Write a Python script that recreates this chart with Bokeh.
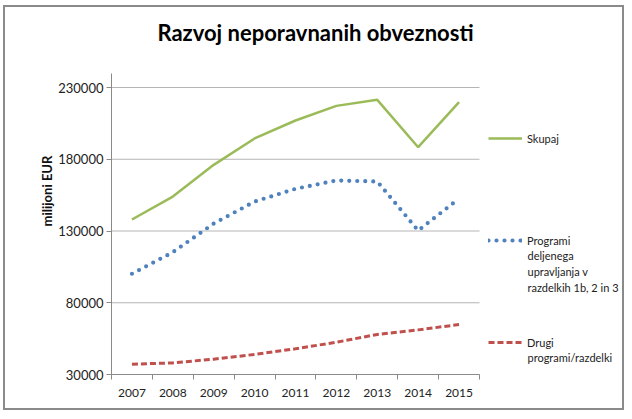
from bokeh.plotting import figure
from bokeh.models import (FixedTicker, Legend, LegendItem, Label, NumeralTickFormatter, Range1d)
from bokeh.embed import file_html
from bokeh.resources import INLINE

years = ["2007", "2008", "2009", "2010", "2011", "2012", "2013", "2014", "2015"]
skupaj = [138000, 154000, 176100, 194500, 207000, 217200, 221400, 188400, 219800]
programi = [100200, 115200, 135200, 150500, 159400, 165200, 164500, 130300, 152600]
drugi = [37200, 38100, 40700, 44000, 47900, 52500, 57900, 61100, 64800]
y_ticks = [30000, 80000, 130000, 180000, 230000]
legend_lines = [
    ["Skupaj"],
    ["Programi", "deljenega", "upravljanja v", "razdelkih 1b, 2 in 3"],
    ["Drugi", "programi/razdelki"],
]

# canvas placed inside a 2px border at page offset (5, 7)
OX, OY = 5, 7
CW, CH = 621, 405
# page-pixel geometry of the plot area
PL, PR, PB, PY_TOP_TICK = 111, 479, 374, 87
n = len(years)
FL = PL - OX            # frame left (canvas)
FB = PB - OY            # frame bottom (canvas)
FW = CW - FL            # frame spans to the right edge
FH = FB                 # frame spans to the top edge
ppx = (PR - PL) / n
vpp = (y_ticks[-1] - y_ticks[0]) / (PB - PY_TOP_TICK)
X1 = FW / ppx
Y0 = y_ticks[0]
Y1 = Y0 + FH * vpp

def px_x(px):
    return (px - PL) / ppx

def px_y(py):
    return Y0 + (PB - py) * vpp

p = figure(width=CW, height=CH, output_backend="svg", toolbar_location=None,
           x_range=Range1d(0, X1), y_range=Range1d(Y0, Y1),
           min_border_left=FL, min_border_right=0,
           min_border_top=0, min_border_bottom=CH - FB)
p.styles = {"border": "2px solid #8a8a8a", "margin-left": "3px", "margin-top": "5px"}
p.outline_line_color = None
p.background_fill_color = "white"
p.border_fill_color = "white"

xs = [i + 0.5 for i in range(n)]

FONT = "Lato"
AX = "#8a8a8a"
TXT = "#222222"

# x axis
p.xaxis.ticker = FixedTicker(ticks=xs, minor_ticks=list(range(n + 1)))
p.xaxis.major_label_overrides = {x: y for x, y in zip(xs, years)}
p.xaxis.bounds = (0, n)
p.xaxis.major_tick_line_color = None
p.xaxis.minor_tick_line_color = AX
p.xaxis.minor_tick_in = 0
p.xaxis.minor_tick_out = 5
p.xaxis.axis_line_color = AX
p.xaxis.major_label_text_font = FONT
p.xaxis.major_label_text_font_size = "12px"
p.xaxis.major_label_text_color = TXT
p.xaxis.major_label_standoff = 8
p.xgrid.visible = False

# y axis
p.yaxis.ticker = FixedTicker(ticks=y_ticks)
p.yaxis.formatter = NumeralTickFormatter(format="0")
p.yaxis.bounds = (Y0, px_y(73))
p.yaxis.major_tick_line_color = AX
p.yaxis.major_tick_in = 0
p.yaxis.major_tick_out = 5
p.yaxis.minor_tick_line_color = None
p.yaxis.axis_line_color = AX
p.yaxis.major_label_text_font = FONT
p.yaxis.major_label_text_font_size = "13px"
p.yaxis.major_label_text_color = TXT
p.yaxis.major_label_standoff = 3
p.yaxis.axis_label = "milijoni EUR"
p.yaxis.axis_label_text_font = FONT
p.yaxis.axis_label_text_font_style = "bold"
p.yaxis.axis_label_text_font_size = "13px"
p.yaxis.axis_label_text_color = "#111111"
p.yaxis.axis_label_standoff = 0
p.ygrid.visible = False

# horizontal gridlines limited to the plot area
p.segment(x0=[0] * len(y_ticks), x1=[n] * len(y_ticks), y0=y_ticks, y1=y_ticks,
          line_color="#b5b5b5", line_width=1)

g = p.line(xs, skupaj, line_color="#9BBB59", line_width=2.5)
b = p.line(xs, programi, line_color="#4F81BD", line_width=4.2, line_dash="0 8", line_cap="round")
r = p.line(xs, drugi, line_color="#C0504D", line_width=3, line_dash="6 3")

LFS = 11
LH = 15.7

def add_leg(lines, rend, glyph_py):
    # glyph_py: page y of the legend key / first text line
    vy = FB - ((glyph_py - OY) + 8) + 1
    leg = Legend(items=[LegendItem(label=lines[0], renderers=[rend])],
                 location=(488 - PL, vy), border_line_color=None,
                 background_fill_alpha=0, glyph_width=34, glyph_height=14,
                 label_text_font=FONT, label_text_font_size=f"{LFS}px",
                 label_text_color=TXT, label_standoff=5,
                 padding=0, margin=0, spacing=0)
    p.add_layout(leg)
    if len(lines) > 1:
        p.add_layout(Label(x=px_x(527), y=px_y(glyph_py + LH / 2 + 1), text="\n".join(lines[1:]),
                           text_font=FONT, text_font_size=f"{LFS}px", text_color=TXT,
                           text_align="left", text_baseline="top",
                           text_line_height=1.2))

add_leg(legend_lines[0], g, 138)
add_leg(legend_lines[1], b, 240)
add_leg(legend_lines[2], r, 342)

title = Label(x=px_x(315), y=px_y(32), text="Razvoj neporavnanih obveznosti",
              text_font=FONT, text_font_style="bold", text_font_size="22px",
              text_align="center", text_baseline="middle", text_color="#000000")
p.add_layout(title)

open("out.html", "w").write(file_html(p, INLINE))
